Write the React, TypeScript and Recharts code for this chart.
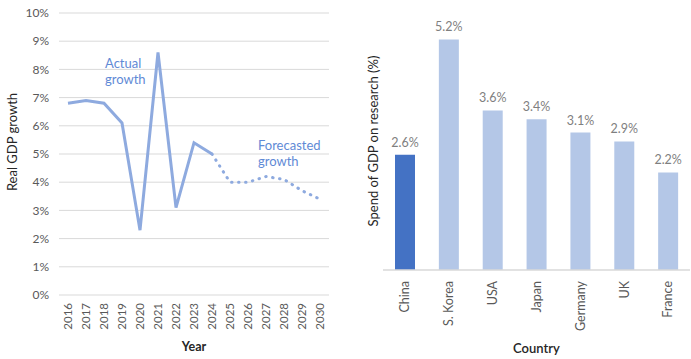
import React from 'react';
import {
  LineChart, Line, BarChart, Bar, Cell, XAxis, YAxis, CartesianGrid,
  ReferenceDot, LabelList,
} from 'recharts';

const years = ['2016','2017','2018','2019','2020','2021','2022','2023','2024','2025','2026','2027','2028','2029','2030'];
const actualGrowth = [6.8, 6.9, 6.8, 6.1, 2.3, 8.6, 3.1, 5.4, 5.0, null, null, null, null, null, null];
const forecastGrowth = [null, null, null, null, null, null, null, null, 5.0, 4.0, 4.0, 4.2, 4.1, 3.7, 3.4];
const yTicks = [0, 1, 2, 3, 4, 5, 6, 7, 8, 9, 10];

const countries = ['China', 'S. Korea', 'USA', 'Japan', 'Germany', 'UK', 'France'];
const researchSpend = [2.6, 5.2, 3.6, 3.4, 3.1, 2.9, 2.2];

const lineData = years.map((y, i) => ({ year: y, actual: actualGrowth[i], forecast: forecastGrowth[i] }));
const barData = countries.map((c, i) => ({ country: c, value: researchSpend[i] }));

const FONT = 'Lato, "Noto Sans", sans-serif';
const LINE_COLOR = '#8EAADF';
const NOTE_COLOR = '#5F8AD6';

const YearTick = (props: any) => {
  const { x, y, payload } = props;
  return (
    <g transform={`translate(${x},${y})`}>
      <text transform="rotate(-90)" textAnchor="end" dy="0.35em" fill="#595959" fontSize={11.5} fontFamily={FONT}>
        {payload.value}
      </text>
    </g>
  );
};

const CountryTick = (props: any) => {
  const { x, y, payload } = props;
  return (
    <g transform={`translate(${x},${y})`}>
      <text transform="rotate(-90)" textAnchor="end" dy="0.35em" fill="#595959" fontSize={12.5} fontFamily={FONT}>
        {payload.value}
      </text>
    </g>
  );
};

const noteStyle = { fill: NOTE_COLOR, fontSize: 13, fontFamily: FONT };

export default function App() {
  return (
    <div style={{ position: 'absolute', left: 0, top: 0, width: 691, height: 359, background: '#fff' }}>
      <div style={{ position: 'absolute', left: 0, top: 0 }}>
        <LineChart width={345} height={359} data={lineData} margin={{ top: 13, right: 16, bottom: 24, left: 0 }}>
          <CartesianGrid vertical={false} stroke="#D9D9D9" />
          <XAxis
            dataKey="year"
            interval={0}
            height={40}
            padding={{ left: 9, right: 9 }}
            axisLine={false}
            tickLine={false}
            tickSize={0}
            tickMargin={8}
            tick={<YearTick />}
            label={{ value: 'Year', position: 'bottom', offset: 7, style: { fill: '#262626', fontSize: 12.5, fontWeight: 700, fontFamily: FONT } }}
          />
          <YAxis
            width={59}
            domain={[0, 10]}
            ticks={yTicks}
            interval={0}
            tickFormatter={(v: number) => `${v}%`}
            axisLine={false}
            tickLine={false}
            tickSize={0}
            tickMargin={10}
            tick={{ fill: '#595959', fontSize: 12, fontFamily: FONT }}
            label={{ value: 'Real GDP growth', angle: -90, position: 'insideLeft', offset: 12, dy: -12, style: { textAnchor: 'middle', fill: '#262626', fontSize: 13, fontFamily: FONT } }}
          />
          <Line dataKey="actual" stroke={LINE_COLOR} strokeWidth={3} dot={false} isAnimationActive={false} connectNulls={false} strokeLinejoin="miter" />
          <Line dataKey="forecast" stroke={LINE_COLOR} strokeWidth={3} strokeDasharray="0.5 6.5" strokeLinecap="round" dot={false} isAnimationActive={false} />
          <ReferenceDot x="2018" y={8.2} r={0} fill="none" stroke="none" label={{ value: 'Actual', position: 'right', offset: 1, style: noteStyle }} />
          <ReferenceDot x="2018" y={7.65} r={0} fill="none" stroke="none" label={{ value: 'growth', position: 'right', offset: 1, style: noteStyle }} />
          <ReferenceDot x="2026" y={5.32} r={0} fill="none" stroke="none" label={{ value: 'Forecasted', position: 'right', offset: 10, style: noteStyle }} />
          <ReferenceDot x="2026" y={4.75} r={0} fill="none" stroke="none" label={{ value: 'growth', position: 'right', offset: 10, style: noteStyle }} />
        </LineChart>
      </div>
      <div style={{ position: 'absolute', left: 345, top: 0 }}>
        <BarChart width={346} height={359} data={barData} margin={{ top: 4, right: 1, bottom: 39, left: 0 }} barSize={20}>
          <XAxis
            dataKey="country"
            interval={0}
            height={50}
            axisLine={{ stroke: '#D9D9D9', strokeWidth: 1.5 }}
            tickLine={false}
            tickSize={0}
            tickMargin={11}
            tick={<CountryTick />}
            label={{ value: 'Country', position: 'bottom', offset: 24, style: { fill: '#262626', fontSize: 13, fontWeight: 600, fontFamily: FONT } }}
          />
          <YAxis
            width={38}
            domain={[0, 6]}
            tick={false}
            axisLine={false}
            tickLine={false}
            label={{ value: 'Spend of GDP on research (%)', angle: -90, position: 'insideLeft', offset: 28, dy: 4, style: { textAnchor: 'middle', fill: '#262626', fontSize: 13, fontFamily: FONT } }}
          />
          <Bar dataKey="value" isAnimationActive={false}>
            {barData.map((d, i) => (
              <Cell key={d.country} fill={i === 0 ? '#4472C4' : '#B4C7E7'} />
            ))}
            <LabelList dataKey="value" position="top" offset={8} formatter={(v: any) => `${v}%`} style={{ fill: '#7F7F7F', fontSize: 12.5, fontFamily: FONT }} />
          </Bar>
        </BarChart>
      </div>
    </div>
  );
}
